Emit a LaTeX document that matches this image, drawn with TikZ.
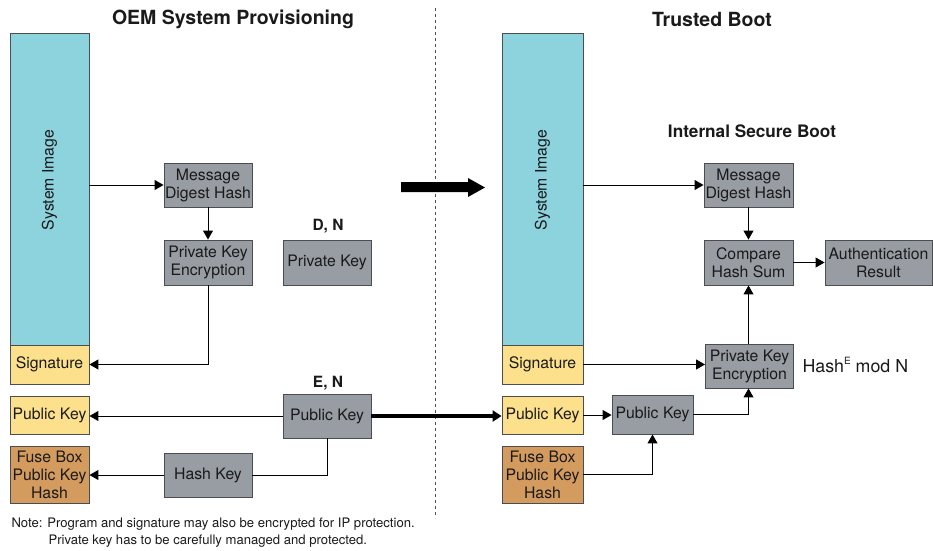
\documentclass[tikz,border=0pt]{standalone}
\usepackage{fontspec}
\setmainfont{TeX Gyre Heros}
\usetikzlibrary{arrows.meta}
\definecolor{imgcyan}{HTML}{8DD3DE}
\definecolor{sigyellow}{HTML}{FCE08C}
\definecolor{fuseorange}{HTML}{D49B5E}
\definecolor{boxgray}{HTML}{989DA3}
\definecolor{edgegray}{HTML}{4A4D52}
\definecolor{txt}{HTML}{1A1A1A}
\tikzset{
  box/.style={draw=edgegray, line width=0.9pt, inner sep=0pt, align=center, text=txt,
    font=\fontsize{15.8}{18}\selectfont},
  gbox/.style={box, fill=boxgray},
  ybox/.style={box, fill=sigyellow},
  obox/.style={box, fill=fuseorange},
  cbox/.style={box, fill=imgcyan},
  arr/.style={line width=1pt, -{Triangle[length=9pt,width=10pt]}},
  plain/.style={line width=1pt},
  thickarr/.style={line width=4pt, -{Triangle[length=9pt,width=11pt]}},
  title/.style={font=\bfseries\fontsize{19.5}{22}\selectfont, text=txt},
  lbl/.style={font=\bfseries\fontsize{15.5}{17}\selectfont, text=txt},
}
\begin{document}
\begin{tikzpicture}[x=1pt,y=-1pt]
\useasboundingbox (0,0) rectangle (933,550);
% titles
\node[title] (t1) at (233,19) {OEM System Provisioning};
\node[title] (t2) at (712,19) {Trusted Boot};
% divider
\draw[edgegray, line width=1pt, dash pattern=on 3pt off 3pt] (435,8) -- (435,518);
% ---------- left side ----------
\node[cbox, minimum width=79pt, minimum height=312pt] (simg) at (49.5,189) {};
\node[rotate=90, font=\fontsize{15.8}{18}\selectfont, text=txt] (simgl) at (49.5,180) {System Image};
\node[ybox, minimum width=79pt, minimum height=39pt] (sig) at (49.5,364.5) {Signature};
\node[ybox, minimum width=79pt, minimum height=38pt] (pk1) at (49.5,415) {Public Key};
\node[obox, minimum width=79pt, minimum height=57pt] (fuse) at (49.5,474.5) {Fuse Box\\Public Key\\Hash};
\node[gbox, minimum width=88pt, minimum height=44pt] (mdh1) at (208,185) {Message\\Digest Hash};
\node[gbox, minimum width=88pt, minimum height=45pt] (pke1) at (208,262.5) {Private Key\\Encryption};
\node[gbox, minimum width=88pt, minimum height=45pt] (prk) at (327,262.5) {Private Key};
\node[lbl] (dn) at (328,226) {D, N};
\node[gbox, minimum width=88pt, minimum height=44pt] (pkc) at (327,416) {Public Key};
\node[lbl] (en) at (328,383) {E, N};
\node[gbox, minimum width=88pt, minimum height=44pt] (hk) at (208,475) {Hash Key};
\draw[arr] (simg.east |- mdh1.west) -- (mdh1.west);
\draw[arr] (mdh1.south) -- (pke1.north);
\draw[arr] (pke1.south) |- (sig.east);
\draw[arr] (pkc.west) -- (pkc.west -| pk1.east);
\draw[plain] (pkc.south) |- (hk.east);
\draw[arr] (hk.west) -- (hk.west -| fuse.east);
% big middle arrow
\fill[black] (401,182) -- (468,182) -- (468,178) -- (485,187.5) -- (468,197) -- (468,192) -- (401,192) -- cycle;
% ---------- right side ----------
\node[cbox, minimum width=81pt, minimum height=312pt] (simg2) at (542.5,189) {};
\node[rotate=90, font=\fontsize{15.8}{18}\selectfont, text=txt] (simgl2) at (542.5,180) {System Image};
\node[ybox, minimum width=81pt, minimum height=39pt] (sig2) at (542.5,364.5) {Signature};
\node[ybox, minimum width=81pt, minimum height=38pt] (pk2) at (542.5,415) {Public Key};
\node[obox, minimum width=81pt, minimum height=57pt] (fuse2) at (542.5,474.5) {Fuse Box\\Public Key\\Hash};
\node[font=\bfseries\fontsize{17.2}{20}\selectfont, text=txt] (isb) at (752,131) {Internal Secure Boot};
\node[gbox, minimum width=89pt, minimum height=44pt] (mdh2) at (748.5,185) {Message\\Digest Hash};
\node[gbox, minimum width=89pt, minimum height=45pt] (chs) at (748.5,262.5) {Compare\\Hash Sum};
\node[gbox, minimum width=107pt, minimum height=45pt] (auth) at (878.5,262.5) {Authentication\\Result};
\node[gbox, minimum width=88pt, minimum height=44pt] (pke2) at (749.5,366) {Private Key\\Encryption};
\node[anchor=west, font=\fontsize{17.8}{20}\selectfont, text=txt] (hmod) at (799,365) {Hash\raisebox{0.45em}{\fontsize{10}{10}\selectfont E} mod N};
\node[gbox, minimum width=81pt, minimum height=39pt] (pkg) at (652.5,414.5) {Public Key};
\draw[thickarr] (pkc.east) -- (pkc.east -| pk2.west);
\draw[arr] (simg2.east |- mdh2.west) -- (mdh2.west);
\draw[arr] (mdh2.south) -- (mdh2.south |- chs.north);
\draw[arr] (chs.east) -- (auth.west);
\draw[arr] (pke2.north -| mdh2.south) -- (chs.south);
\draw[arr] (sig2.east) -- (sig2.east -| pke2.west);
\draw[arr] (pk2.east) -- (pk2.east -| pkg.west);
\draw[arr] (pkg.east) -| (pke2.south -| mdh2.south);
\draw[arr] (fuse2.east) -| (pkg.south);
% note
\node[anchor=north west, align=left, font=\fontsize{13.1}{17}\selectfont, text=txt] (note) at (8,514)
  {Note: Program and signature may also be encrypted for IP protection.\\
   \hspace*{37pt}Private key has to be carefully managed and protected.};
\end{tikzpicture}
\end{document}
